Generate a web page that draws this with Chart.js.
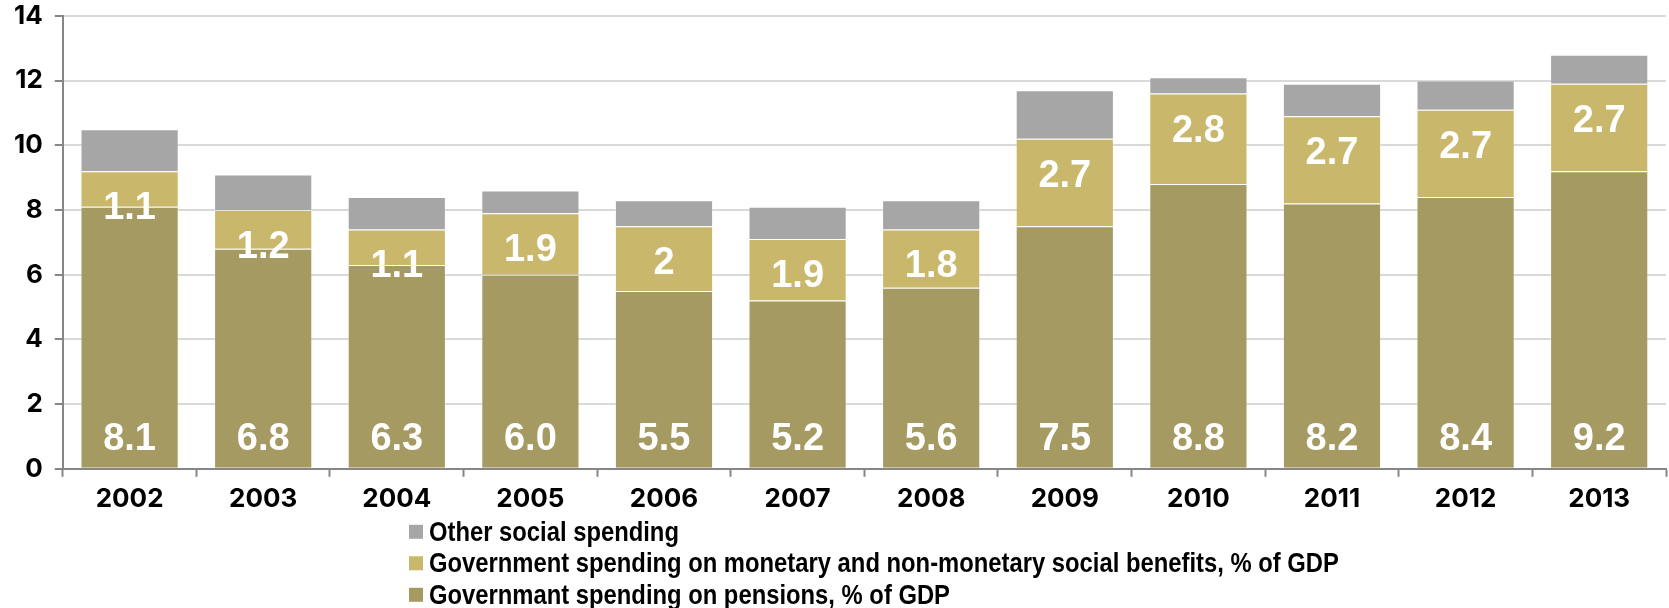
<!DOCTYPE html>
<html>
<head>
<meta charset="utf-8">
<script src="https://cdn.jsdelivr.net/npm/chart.js@4/dist/chart.umd.min.js"></script>
<style>
  body { margin: 0; background: #fff; }
  #wrap { width: 1669px; height: 608px; }
</style>
</head>
<body>
<div id="wrap"><canvas id="chart" width="1669" height="608"></canvas></div>
<script>
const years = ['2002', '2003', '2004', '2005', '2006', '2007', '2008', '2009', '2010', '2011', '2012', '2013'];
const pensions = [8.1, 6.8, 6.3, 6.0, 5.5, 5.2, 5.6, 7.5, 8.8, 8.2, 8.4, 9.2];
const benefits = [1.1, 1.2, 1.1, 1.9, 2, 1.9, 1.8, 2.7, 2.8, 2.7, 2.7, 2.7];
const otherSocial = [1.3, 1.1, 1.0, 0.7, 0.8, 1.0, 0.9, 1.5, 0.5, 1.0, 0.9, 0.9];
const yTicks = [0, 2, 4, 6, 8, 10, 12, 14];

const labelFont = 'bold 38px "Liberation Sans", Arial, sans-serif';
const legendFont = 'bold 28px "Liberation Sans", Arial, sans-serif';
const axisFamily = 'Inter, "Liberation Sans", sans-serif';

// white value labels: pensions at the base, benefits near the top of their segment
const valueLabels = {
    id: 'valueLabels',
    afterDatasetsDraw(chart) {
        const ctx = chart.ctx;
        ctx.save();
        ctx.font = labelFont;
        ctx.fillStyle = '#fff';
        ctx.textAlign = 'center';
        ctx.textBaseline = 'alphabetic';
        chart.getDatasetMeta(0).data.forEach((bar, i) => {
            ctx.fillText(pensions[i].toFixed(1), bar.x, bar.base - 18);
        });
        chart.getDatasetMeta(1).data.forEach((bar, i) => {
            ctx.fillText(String(benefits[i]), bar.x, bar.y + 48);
        });
        ctx.restore();
    }
};

// legend drawn as a vertical list under the axis (condensed text)
const stackedLegend = {
    id: 'stackedLegend',
    afterDraw(chart) {
        const ctx = chart.ctx;
        const items = chart.data.datasets.slice().reverse();
        const x0 = 409;
        const y0 = chart.chartArea.bottom + 63;
        ctx.save();
        ctx.font = legendFont;
        ctx.textBaseline = 'middle';
        ctx.textAlign = 'left';
        items.forEach((ds, i) => {
            const y = y0 + i * 31.5;
            ctx.fillStyle = ds.backgroundColor;
            ctx.fillRect(x0, y - 7, 14, 14);
            ctx.fillStyle = '#000';
            ctx.save();
            ctx.translate(x0 + 20, y + 1);
            ctx.scale(0.85, 1);
            ctx.fillText(ds.label, 0, 0);
            ctx.restore();
        });
        ctx.restore();
    }
};

new Chart(document.getElementById('chart'), {
    type: 'bar',
    data: {
        labels: years,
        datasets: [
            {
                label: 'Governmant spending on pensions, % of GDP',
                data: pensions,
                backgroundColor: '#A59A61'
            },
            {
                label: 'Government spending on monetary and non-monetary social benefits, % of GDP',
                data: benefits,
                backgroundColor: '#C9B86C'
            },
            {
                label: 'Other social spending',
                data: otherSocial,
                backgroundColor: '#A6A6A6'
            }
        ]
    },
    options: {
        responsive: false,
        animation: false,
        datasets: {
            bar: {
                categoryPercentage: 1,
                barPercentage: 0.735,
                borderWidth: 1,
                borderColor: 'rgba(255,255,255,0.3)'
            }
        },
        layout: {
            padding: { top: 0, right: 3, bottom: 86, left: 2 }
        },
        plugins: {
            legend: { display: false },
            tooltip: { enabled: false }
        },
        scales: {
            x: {
                stacked: true,
                grid: {
                    offset: true,
                    drawOnChartArea: false,
                    tickLength: 8,
                    tickColor: '#868686',
                    tickWidth: 2
                },
                border: { color: '#868686', width: 2 },
                ticks: {
                    color: '#000',
                    padding: 7,
                    font: { family: axisFamily, size: 26, weight: 'bold' }
                }
            },
            y: {
                stacked: true,
                min: 0,
                max: 14,
                afterBuildTicks(axis) {
                    axis.ticks = yTicks.map(v => ({ value: v }));
                },
                grid: {
                    color: '#D9D9D9',
                    lineWidth: 2,
                    tickLength: 8,
                    tickColor: '#868686'
                },
                border: { color: '#868686', width: 2 },
                ticks: {
                    color: '#000',
                    padding: 12,
                    font: { family: axisFamily, size: 26, weight: 'bold', lineHeight: 0.3 }
                }
            }
        }
    },
    plugins: [valueLabels, stackedLegend]
});
</script>
</body>
</html>
